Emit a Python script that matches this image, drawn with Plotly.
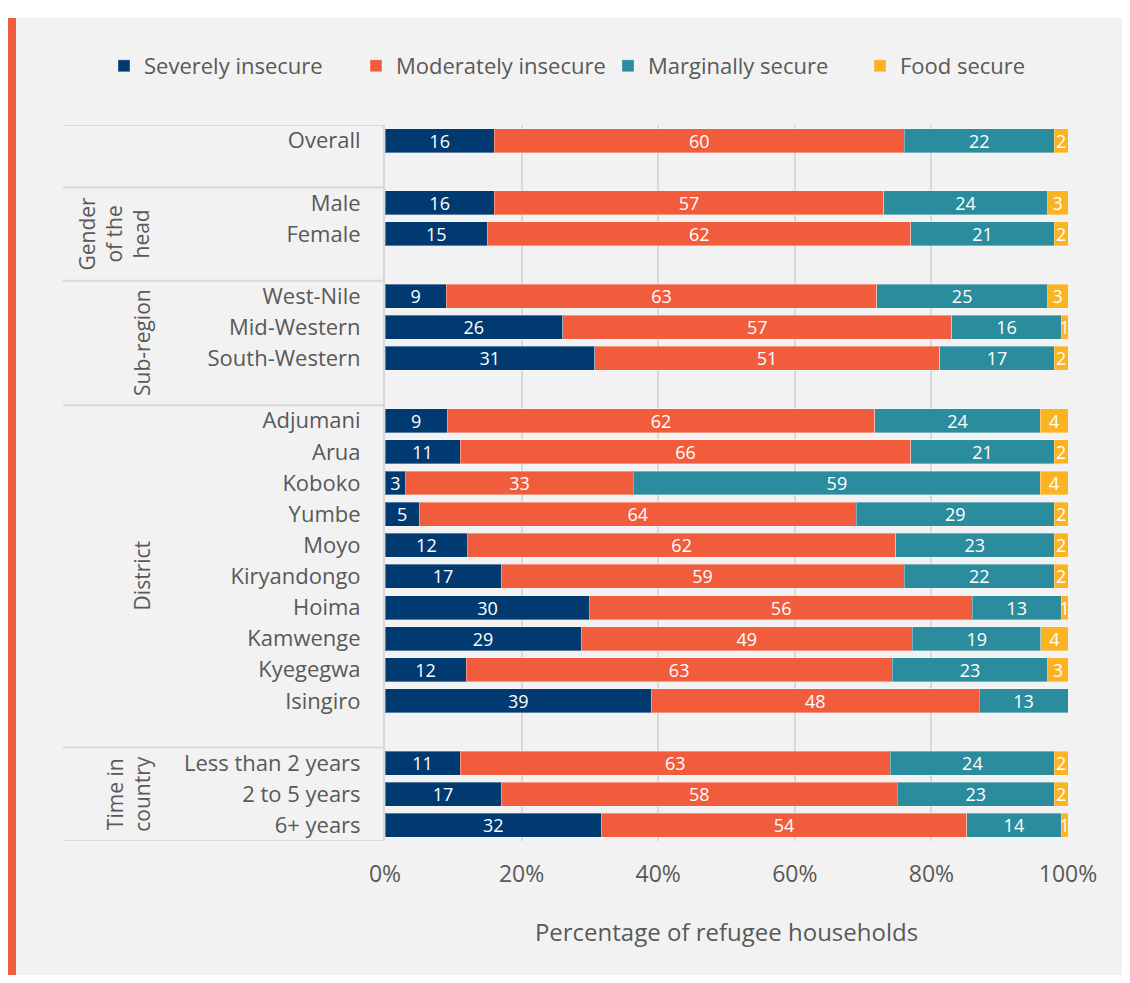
import plotly.graph_objects as go

# ---- data ----
groups = ["", "Gender<br>of the<br>head", "Sub-region", "District", "Time in<br>country"]
group_members = [
    ["Overall"],
    ["Male", "Female"],
    ["West-Nile", "Mid-Western", "South-Western"],
    ["Adjumani", "Arua", "Koboko", "Yumbe", "Moyo", "Kiryandongo", "Hoima",
     "Kamwenge", "Kyegegwa", "Isingiro"],
    ["Less than 2 years", "2 to 5 years", "6+ years"],
]
series = ["Severely insecure", "Moderately insecure", "Marginally secure", "Food secure"]
severely = [16, 16, 15, 9, 26, 31, 9, 11, 3, 5, 12, 17, 30, 29, 12, 39, 11, 17, 32]
moderately = [60, 57, 62, 63, 57, 51, 62, 66, 33, 64, 62, 59, 56, 49, 63, 48, 63, 58, 54]
marginally = [22, 24, 21, 25, 16, 17, 24, 21, 59, 29, 23, 22, 13, 19, 23, 13, 24, 23, 14]
food_secure = [2, 3, 2, 3, 1, 2, 4, 2, 4, 2, 2, 2, 1, 4, 3, 0, 2, 2, 1]
x_ticks = [0, 20, 40, 60, 80, 100]
x_tick_labels = ["0%", "20%", "40%", "60%", "80%", "100%"]

colors = ["#003a70", "#f15d3c", "#2b8c9d", "#fbb321"]
values = [severely, moderately, marginally, food_secure]

# ---- positions: one blank slot after each group (except last) ----
cats, ypos, group_bounds = [], [], []
slot = 0
for gi, members in enumerate(group_members):
    start = slot
    for m in members:
        cats.append(m)
        ypos.append(slot)
        slot += 1
    end = slot
    if gi < len(group_members) - 1:
        slot += 1
        end = slot
    group_bounds.append((start - 0.5, end - 0.5))
n_slots = slot

# figure sits inside the page's 8px body margin
OFF = 8
W, H = 1114, 967
L = 385 - OFF
T = 125 - OFF
R = W - (1068 - OFF)
B = H - (841 - OFF)
pw, ph = W - L - R, H - T - B

def px_x(sx):  # screen px -> paper x
    return (sx - OFF - L) / pw

def px_y(sy):  # screen px -> paper y
    return (H - B - (sy - OFF)) / ph

FONT = "Open Sans"
GREY_TXT = "#595959"

fig = go.Figure()
for name, col, vals in zip(series, colors, values):
    fig.add_trace(go.Bar(
        y=ypos, x=vals, name=name, orientation="h",
        marker=dict(color=col, line=dict(color="rgba(255,255,255,0.35)", width=1)),
        text=[str(v) if v > 0 else "" for v in vals],
        texttemplate="%{text}",
        textposition="inside", insidetextanchor="middle", textangle=0,
        insidetextfont=dict(color="white", size=18, family=FONT),
        hoverinfo="skip",
    ))

shapes = []
# white top band, orange side bar
shapes.append(dict(type="rect", xref="paper", yref="paper", x0=px_x(0), x1=px_x(1140),
                   y0=px_y(18), y1=px_y(0), fillcolor="white", line_width=0, layer="below"))
shapes.append(dict(type="rect", xref="paper", yref="paper", x0=px_x(8), x1=px_x(16),
                   y0=px_y(990), y1=px_y(18), fillcolor="#f15d3c", line_width=0, layer="below"))
# group separator lines
bounds = sorted(set([b for gb in group_bounds for b in gb]))
for b in bounds:
    shapes.append(dict(type="line", xref="paper", yref="y", x0=px_x(63), x1=0,
                       y0=b, y1=b, line=dict(color="#d9d9d9", width=2)))

annotations = []
for g, (b0, b1) in zip(groups, group_bounds):
    if not g:
        continue
    annotations.append(dict(text=g, xref="paper", yref="y", x=px_x(158), y=(b0 + b1) / 2,
                            xanchor="right", yanchor="middle", textangle=-90, showarrow=False,
                            font=dict(size=21, color=GREY_TXT, family=FONT), align="center"))

fig.update_layout(
    width=W, height=H,
    margin=dict(l=L, r=R, t=T, b=B, autoexpand=False),
    paper_bgcolor="#f2f2f2", plot_bgcolor="#f2f2f2",
    barmode="stack", barnorm="percent", bargap=0.23,
    font=dict(family=FONT, color=GREY_TXT),
    uniformtext=dict(minsize=18, mode="show"),
    showlegend=True,
    legend=dict(orientation="h", xref="paper", x=px_x(104), xanchor="left",
                yref="paper", y=px_y(66), yanchor="middle",
                entrywidth=207, entrywidthmode="pixels",
                font=dict(size=22, color=GREY_TXT, family=FONT),
                bgcolor="rgba(0,0,0,0)", traceorder="normal"),
    xaxis=dict(range=[0, 100], tickvals=x_ticks, ticktext=x_tick_labels,
               showgrid=True, gridcolor="#d9d9d9", gridwidth=2, zeroline=False,
               showline=False, ticks="", ticklabelstandoff=17,
               tickfont=dict(size=23, color=GREY_TXT, family=FONT),
               title=dict(text="Percentage of refugee households", standoff=36,
                          font=dict(size=24, color=GREY_TXT, family=FONT)),
               fixedrange=True),
    yaxis=dict(tickvals=ypos, ticktext=cats, range=[n_slots - 0.5, -0.5],
               showgrid=False, zeroline=False, showline=True, linecolor="#d9d9d9",
               linewidth=2, ticks="", ticklabelstandoff=18,
               tickfont=dict(size=22, color=GREY_TXT, family=FONT), fixedrange=True),
    shapes=shapes, annotations=annotations,
)

fig.write_html("out.html")
